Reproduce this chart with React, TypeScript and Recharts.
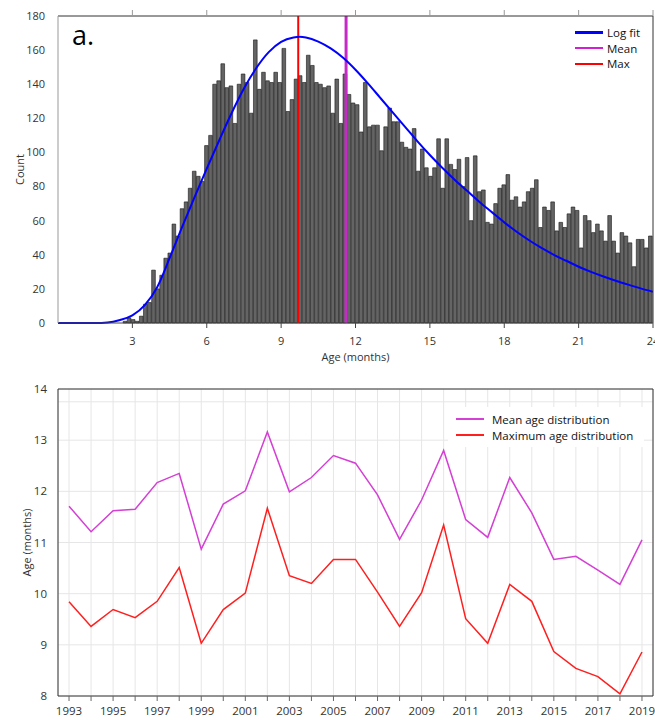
import React from 'react';
import {
  Bar,
  CartesianGrid,
  ComposedChart,
  Legend,
  Line,
  LineChart,
  ReferenceLine,
  XAxis,
  YAxis,
} from 'recharts';

// histogram: 5-day bins from 0 to 24 months
const binDays = 5;
const daysPerMonth = 30.4375;
const binCounts = [
  0, 0, 0, 0, 0, 0, 0, 0, 0, 0,
  0, 0, 0, 0, 0, 0, 1, 3, 2, 1,
  4, 11, 12, 31, 20, 28, 38, 41, 58, 51,
  67, 71, 79, 89, 86, 83, 104, 110, 140, 142,
  152, 138, 139, 117, 140, 146, 141, 123, 166, 137,
  147, 142, 141, 147, 141, 161, 124, 131, 143, 145,
  141, 157, 151, 141, 140, 138, 139, 123, 143, 117,
  146, 134, 129, 128, 112, 141, 115, 116, 116, 101,
  115, 126, 118, 118, 106, 103, 102, 114, 89, 102,
  91, 86, 91, 108, 79, 108, 93, 90, 96, 80,
  97, 60, 98, 77, 78, 59, 58, 70, 79, 81,
  87, 72, 74, 68, 71, 77, 79, 84, 56, 68,
  66, 71, 54, 59, 56, 64, 68, 66, 44, 63,
  60, 53, 58, 54, 48, 63, 48, 41, 53, 51,
  47, 33, 49, 49, 44, 51,
];

// log-normal fit
const fitMonths = [0, 1, 1.5, 2, 2.5, 3, 3.5, 4, 4.5, 5, 5.5, 6, 6.5, 7, 7.5, 8, 8.5, 9, 9.5, 9.75, 10, 10.5, 11, 11.5, 12, 12.5, 13, 13.5, 14, 14.5, 15, 15.5, 16, 16.5, 17, 17.5, 18, 18.5, 19, 19.5, 20, 20.5, 21, 21.5, 22, 22.5, 23, 23.5, 24];
const fitCounts = [0, 0, 0, 0.3, 1.8, 4.5, 10.5, 21, 38, 56, 73.5, 90.5, 107, 123, 137.5, 149.5, 158.8, 164.8, 167.4, 167.8, 167.4, 165, 161, 155.5, 148.5, 140.5, 132, 123.5, 115, 106.5, 98.5, 91, 84, 77.5, 71, 65, 59, 53.5, 48.5, 44, 40, 36.5, 33, 30, 27.3, 24.8, 22.5, 20.3, 18.3];

const meanAge = 11.62;
const maxAge = 9.69;

const monthTicks = [3, 6, 9, 12, 15, 18, 21, 24];
const countTicks = [0, 20, 40, 60, 80, 100, 120, 140, 160, 180];

// yearly series
const years = [1993, 1994, 1995, 1996, 1997, 1998, 1999, 2000, 2001, 2002, 2003, 2004, 2005, 2006, 2007, 2008, 2009, 2010, 2011, 2012, 2013, 2014, 2015, 2016, 2017, 2018, 2019];
const meanByYear = [11.71, 11.21, 11.62, 11.65, 12.17, 12.35, 10.87, 11.75, 12.01, 13.16, 11.99, 12.27, 12.7, 12.55, 11.93, 11.06, 11.83, 12.8, 11.45, 11.1, 12.27, 11.58, 10.67, 10.73, 10.46, 10.18, 11.05];
const maxByYear = [9.84, 9.36, 9.69, 9.53, 9.85, 10.51, 9.03, 9.69, 10.01, 11.67, 10.35, 10.2, 10.67, 10.67, 10.03, 9.36, 10.02, 11.34, 9.51, 9.03, 10.18, 9.85, 8.87, 8.54, 8.38, 8.04, 8.86];
const ageTicks = [8, 9, 10, 11, 12, 13, 13.75, 14];

const FONT = '"Open Sans", "Liberation Sans", sans-serif';

const bins = binCounts.map((count, i) => ({
  month: ((i + 0.5) * binDays) / daysPerMonth,
  count,
}));
const fitData = fitMonths.map((month, i) => ({ month, fit: fitCounts[i] }));
const yearRows = years.map((year, i) => ({
  year,
  mean: meanByYear[i],
  max: maxByYear[i],
}));

const tickStyle = { fill: '#333', fontSize: 11, fontFamily: FONT };

function VerticalTitle(props: any) {
  const { viewBox, value, cx } = props;
  const cy = viewBox.y + viewBox.height / 2;
  return (
    <text
      x={cx}
      y={cy}
      transform={`rotate(-90, ${cx}, ${cy})`}
      textAnchor="middle"
      dominantBaseline="central"
      fill="#333"
      fontSize={11}
      fontFamily={FONT}
    >
      {value}
    </text>
  );
}

type LegendRow = { label: string; color: string; width: number };

function LegendBox({ rows, fontSize, rowHeight, lineWidth, gap, bg }: { rows: LegendRow[]; fontSize: number; rowHeight: number; lineWidth: number; gap: number; bg?: string }) {
  return (
    <div style={{ background: bg, padding: bg ? '4px 8px' : 0, fontFamily: FONT, fontSize, color: '#111' }}>
      {rows.map((r) => (
        <div key={r.label} style={{ display: 'flex', alignItems: 'center', height: rowHeight, whiteSpace: 'nowrap' }}>
          <span style={{ display: 'inline-block', width: lineWidth, height: r.width, background: r.color, marginRight: gap }} />
          {r.label}
        </div>
      ))}
    </div>
  );
}

const legendA: LegendRow[] = [
  { label: 'Log fit', color: '#0000ff', width: 3 },
  { label: 'Mean', color: '#d21fd2', width: 2 },
  { label: 'Max', color: '#ff0000', width: 2 },
];
const legendB: LegendRow[] = [
  { label: 'Mean age distribution', color: '#d43fd4', width: 2 },
  { label: 'Maximum age distribution', color: '#ff1f1f', width: 2 },
];

export default function App() {
  return (
    <div style={{ position: 'absolute', left: 0, top: 0, width: 655, height: 720, background: '#fff' }}>
      <ComposedChart width={655} height={370} data={bins} margin={{ top: 10, right: 2, bottom: 0, left: 0 }}>
        <XAxis
          xAxisId="bottom"
          type="number"
          dataKey="month"
          domain={[0, 24]}
          ticks={monthTicks}
          interval={0}
          allowDataOverflow
          height={47}
          stroke="#444"
          tickSize={5}
          tickMargin={9}
          tick={tickStyle}
          label={{ value: 'Age (months)', position: 'insideBottom', offset: 9, fill: '#333', fontSize: 11, fontFamily: FONT }}
        />
        <XAxis
          xAxisId="top"
          orientation="top"
          type="number"
          dataKey="month"
          domain={[0, 24]}
          ticks={monthTicks}
          interval={0}
          allowDataOverflow
          height={6}
          stroke="#333"
          tickLine={{ stroke: '#999' }}
          tickSize={6}
          tickFormatter={() => ''}
        />
        <YAxis
          type="number"
          domain={[0, 180]}
          ticks={countTicks}
          interval={0}
          width={58}
          axisLine={{ stroke: '#999' }}
          tickLine={false}
          tickSize={6}
          tickMargin={7}
          tick={tickStyle}
          label={(p: any) => <VerticalTitle {...p} value="Count" cx={19} />}
        />
        <Bar xAxisId="bottom" dataKey="count" fill="#646464" stroke="#151515" strokeWidth={0.6} barSize={4.075} isAnimationActive={false} />
        <ReferenceLine xAxisId="bottom" x={maxAge} stroke="#ff0000" strokeWidth={2} />
        <ReferenceLine xAxisId="bottom" x={meanAge} stroke="#c828c8" strokeWidth={3} />
        <Line xAxisId="top" data={fitData} dataKey="fit" type="monotone" stroke="#0000ff" strokeWidth={2} dot={false} isAnimationActive={false} />
        <ReferenceLine xAxisId="bottom" x={24} stroke="#333" />
        <Legend
          layout="horizontal"
          verticalAlign="middle"
          align="center"
          wrapperStyle={{ top: 25, left: 575, width: 80 }}
          content={() => <LegendBox rows={legendA} fontSize={11.5} rowHeight={15.5} lineWidth={28} gap={4} />}
        />
        <text x={72} y={45} fontSize={27} fontFamily={FONT} fill="#000">a.</text>
      </ComposedChart>

      <LineChart width={655} height={350} data={yearRows} margin={{ top: 19, right: 2, bottom: 0, left: 0 }}>
        <CartesianGrid stroke="#e6e6e6" />
        <XAxis
          type="number"
          dataKey="year"
          domain={[1992.5, 2019.5]}
          ticks={years}
          interval={0}
          height={24}
          stroke="#333"
          tickLine={{ stroke: '#666' }}
          tickSize={5}
          tickMargin={6}
          tick={{ ...tickStyle, fontSize: 11.5 }}
          tickFormatter={(y: number) => (y % 2 === 1 ? String(y) : '')}
        />
        <YAxis
          type="number"
          domain={[8, 14]}
          ticks={ageTicks}
          interval={0}
          width={58}
          stroke="#333"
          tickLine={false}
          tickSize={6}
          tickMargin={5}
          tick={{ ...tickStyle, fontSize: 11.5 }}
          tickFormatter={(v: number) => (Number.isInteger(v) ? String(v) : '')}
          label={(p: any) => <VerticalTitle {...p} value="Age (months)" cx={26} />}
        />
        <ReferenceLine y={14} stroke="#333" />
        <ReferenceLine x={2019.5} stroke="#333" />
        <Line dataKey="mean" stroke="#d43fd4" strokeWidth={1.5} dot={false} isAnimationActive={false} />
        <Line dataKey="max" stroke="#ff1f1f" strokeWidth={1.5} dot={false} isAnimationActive={false} />
        <Legend
          layout="horizontal"
          verticalAlign="middle"
          align="center"
          wrapperStyle={{ top: 37, left: 448, width: 196 }}
          content={() => <LegendBox rows={legendB} fontSize={11.5} rowHeight={16} lineWidth={28} gap={8} bg="#fff" />}
        />
        <text x={73} y={420} fontSize={28} fontFamily={FONT} fill="#000">b.</text>
      </LineChart>
    </div>
  );
}
